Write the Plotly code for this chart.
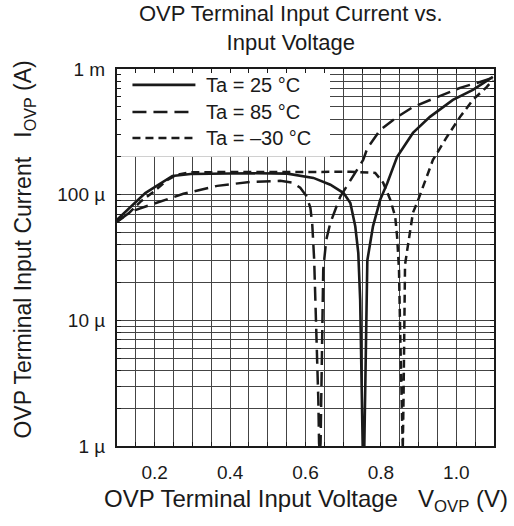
import plotly.graph_objects as go

# ---- data (voltage in V, current in µA) ----
v_25 = [0.100, 0.136, 0.175, 0.247, 0.295, 0.454, 0.552, 0.621, 0.666, 0.701, 0.719, 0.732, 0.740,
        0.745, 0.748, 0.750, 0.753, 0.756, 0.7585, 0.761, 0.764, 0.779, 0.798, 0.817, 0.843, 0.885,
        0.930, 0.991, 1.044, 1.097]
i_25 = [63, 80, 103, 141, 146, 148, 147, 136, 120, 103, 86, 56, 34.5,
        14.6, 3.4, 1.0, 0.6, 1.0, 3.4, 14.6, 30, 56, 91, 124, 200, 310,
        416, 568, 682, 865]

v_85 = [0.100, 0.136, 0.189, 0.276, 0.366, 0.454, 0.533, 0.565, 0.586, 0.602, 0.613, 0.618, 0.623,
        0.628, 0.634, 0.636, 0.638, 0.640, 0.642, 0.644, 0.647, 0.655, 0.666, 0.692, 0.724, 0.753,
        0.764, 0.798, 0.843, 0.885, 0.949, 1.010, 1.063, 1.097]
i_85 = [61, 73, 83, 101.6, 117.5, 126.5, 128.8, 124.5, 113.5, 98, 78.7, 57.5, 30.3,
        10.1, 2.34, 1.05, 0.9, 1.05, 2.34, 10.1, 25.2, 43.7, 59.7, 96.2, 138.7, 189,
        234, 327, 415, 498, 597, 708, 789, 849]

v_m30 = [0.100, 0.130, 0.162, 0.197, 0.234, 0.260, 0.295, 0.454, 0.586, 0.719, 0.785, 0.806, 0.825,
         0.838, 0.843, 0.848, 0.851, 0.854, 0.856, 0.858, 0.860, 0.863, 0.864, 0.870, 0.885, 0.899,
         0.912, 0.938, 0.975, 1.010, 1.044, 1.081, 1.097]
i_m30 = [61, 70.5, 87.7, 105.4, 131.2, 144, 151, 152, 152, 152, 149, 124.5, 91,
         66.7, 46.2, 25.3, 8.4, 2.34, 1.05, 0.95, 2.34, 14.6, 27.7, 36.5, 71.8, 91,
         115.3, 189, 288, 416, 568, 721, 818]

series_names = ["Ta = 25 °C", "Ta = 85 °C", "Ta = –30 °C"]

x_major_vals = [0.2, 0.4, 0.6, 0.8, 1.0]
x_major_text = ["0.2", "0.4", "0.6", "0.8", "1.0"]
x_minor_vals = [0.1, 0.15, 0.25, 0.3, 0.35, 0.45, 0.5, 0.55, 0.65, 0.7, 0.75,
                0.85, 0.9, 0.95, 1.05, 1.1]

y_major_vals = [1e-6, 1e-5, 1e-4, 1e-3]
y_major_text = ["1 µ", "10 µ", "100 µ", "1 m"]
y_minor_mult = [2, 3, 4, 5, 6, 7, 8, 9]

FONT = "Liberation Sans, Arial, sans-serif"
INK = "#1a1a1a"

def amps(vals):
    return [v * 1e-6 for v in vals]

y_minor_vals = [m * d for d in y_major_vals[:3] for m in y_minor_mult]

fig = go.Figure()
styles = [
    (v_25, i_25, "solid", 2.6),
    (v_85, i_85, "14px,7px", 2.5),
    (v_m30, i_m30, "8px,5px", 2.5),
]
for (vx, iy, dash, w), name in zip(styles, series_names):
    fig.add_trace(go.Scatter(x=vx, y=amps(iy), mode="lines", name=name,
                             line=dict(color=INK, width=w, dash=dash),
                             showlegend=False, hoverinfo="skip"))

# legend box (white, covering the grid)
fig.add_shape(type="rect", xref="x", yref="y", x0=0.1, x1=0.665, y0=2e-4, y1=1e-3,
              fillcolor="white", line=dict(width=0), layer="between")

legend_y = [0.958, 0.886, 0.817]
legend_dash = ["solid", "14px,7px", "8px,5px"]
for yy, dash, name in zip(legend_y, legend_dash, series_names):
    fig.add_shape(type="line", xref="paper", yref="paper", x0=0.041, x1=0.208, y0=yy, y1=yy,
                  line=dict(color=INK, width=2.6, dash=dash))
    fig.add_annotation(xref="paper", yref="paper", x=0.232, y=yy, text=name, showarrow=False,
                       xanchor="left", yanchor="middle", font=dict(family=FONT, size=20, color=INK))

# title
fig.add_annotation(xref="paper", yref="paper", x=0.462, y=1.108,
                   text="OVP Terminal Input Current vs.<br>Input Voltage",
                   showarrow=False, xanchor="center", yanchor="middle",
                   font=dict(family=FONT, size=22, color=INK))
# axis titles
fig.add_annotation(xref="paper", yref="paper", x=0.5, y=-0.145,
                   text="OVP Terminal Input Voltage\u00a0\u00a0\u00a0V<sub>OVP</sub> (V)",
                   showarrow=False, xanchor="center", yanchor="middle",
                   font=dict(family=FONT, size=24, color=INK))
fig.add_annotation(xref="paper", yref="paper", x=-0.245, y=0.52,
                   text="OVP Terminal Input Current\u00a0\u00a0\u00a0I<sub>OVP</sub> (A)",
                   showarrow=False, xanchor="center", yanchor="middle", textangle=-90,
                   font=dict(family=FONT, size=23, color=INK))

common = dict(showgrid=True, gridcolor="#444", gridwidth=1,
              ticks="inside", ticklen=4, tickcolor=INK, tickwidth=1,
              showline=True, linecolor=INK, linewidth=2, mirror="ticks",
              zeroline=False, tickfont=dict(family=FONT, size=19, color=INK))

fig.update_xaxes(range=[0.1, 1.1], tickmode="array", tickvals=x_major_vals, ticktext=x_major_text,
                 ticklabelstandoff=8,
                 minor=dict(tickmode="array", tickvals=x_minor_vals, showgrid=True,
                            gridcolor="#444", gridwidth=1, ticks="inside", ticklen=4,
                            tickcolor=INK, tickwidth=1),
                 **common)
fig.update_yaxes(type="log", range=[-6, -3], tickmode="array", tickvals=y_major_vals, ticktext=y_major_text,
                 ticklabelstandoff=6,
                 minor=dict(tickmode="array", tickvals=y_minor_vals, showgrid=True,
                            gridcolor="#444", gridwidth=1, ticks="inside", ticklen=4,
                            tickcolor=INK, tickwidth=1),
                 **common)

fig.update_layout(width=514, height=526, margin=dict(l=117, r=20, t=69, b=80),
                  plot_bgcolor="white", paper_bgcolor="white", showlegend=False)

fig.write_html("out.html", config={"displayModeBar": False},
               post_script="document.body.style.margin='0';")
